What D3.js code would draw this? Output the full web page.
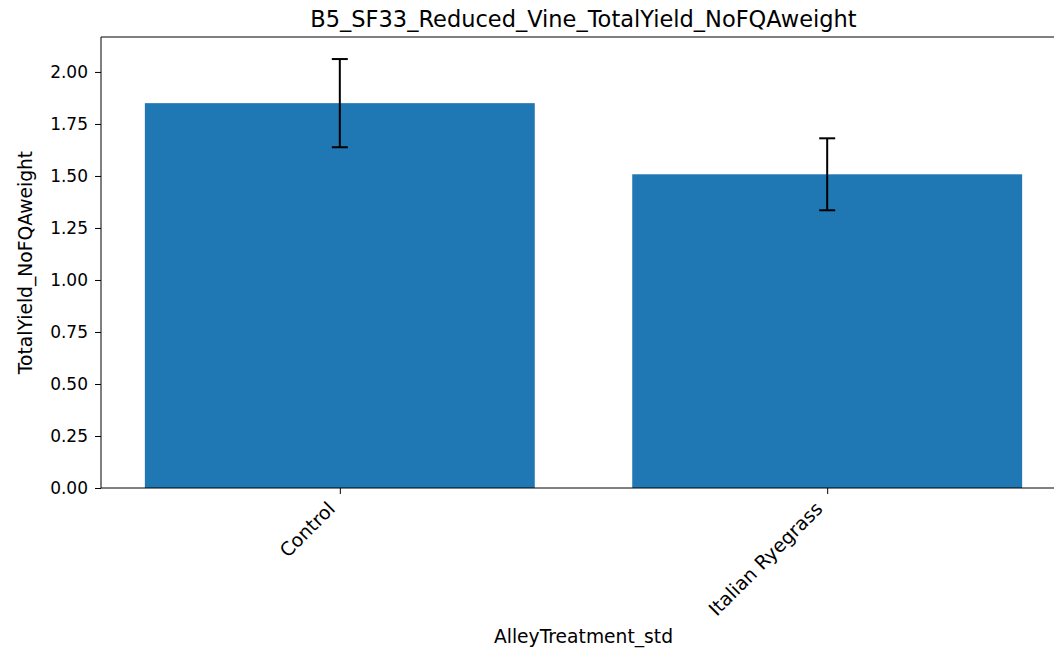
<!DOCTYPE html>
<html>
<head>
<meta charset="utf-8">
<script src="https://cdn.jsdelivr.net/npm/d3@7"></script>
<style>
  body { margin: 0; background: #fff; }
  text { font-family: "DejaVu Sans", sans-serif; fill: #000; }
</style>
</head>
<body>
<div id="chart"></div>
<script>
const categories = ["Control", "Italian Ryegrass"];
const means = [1.850, 1.508];
const errors = [0.212, 0.173];
const yTicks = [0, 0.25, 0.5, 0.75, 1.0, 1.25, 1.5, 1.75, 2.0];

const W = 1054, H = 650;
const margin = { top: 37, left: 101, bottom: 162 };
const plotRight = 1066;
const height = H - margin.top - margin.bottom;

const svg = d3.select("#chart").append("svg")
    .attr("width", W)
    .attr("height", H);

// matplotlib-like linear x: bars at 0,1 with width 0.8, 5% margins
const x = d3.scaleLinear()
    .domain([-0.49, 1.49])
    .range([margin.left, plotRight]);
const y = d3.scaleLinear()
    .domain([0, 2.168])
    .range([margin.top + height, margin.top]);

const g = svg.append("g");

g.selectAll("rect.bar")
    .data(means)
    .enter()
    .append("rect")
    .attr("class", "bar")
    .attr("x", (d, i) => x(i - 0.4))
    .attr("width", (d, i) => x(i + 0.4) - x(i - 0.4))
    .attr("y", d => y(d))
    .attr("height", d => y(0) - y(d))
    .attr("fill", "#1f77b4");

// error bars
const cap = 8;
means.forEach((m, i) => {
    const cx = x(i);
    const eb = g.append("g").attr("stroke", "#000").attr("stroke-width", 2);
    eb.append("line")
        .attr("x1", cx).attr("x2", cx)
        .attr("y1", y(m - errors[i])).attr("y2", y(m + errors[i]));
    [m - errors[i], m + errors[i]].forEach(v => {
        eb.append("line")
            .attr("x1", cx - cap).attr("x2", cx + cap)
            .attr("y1", y(v)).attr("y2", y(v));
    });
});

// axes
const yAxis = svg.append("g")
    .attr("transform", "translate(" + margin.left + ",0)")
    .call(d3.axisLeft(y).tickValues(yTicks).tickFormat(d3.format(".2f")).tickSize(6).tickPadding(7));
yAxis.select(".domain").remove();
yAxis.selectAll("text").style("font-size", "17px");

const xAxis = svg.append("g")
    .attr("transform", "translate(0," + y(0) + ")")
    .call(d3.axisBottom(x).tickValues([0, 1]).tickFormat((d) => categories[d]).tickSize(6));
xAxis.select(".domain").remove();
xAxis.selectAll("text")
    .style("font-size", "19px")
    .attr("text-anchor", "end")
    .attr("x", 0)
    .attr("y", 0)
    .attr("dy", 0)
    .attr("transform", "translate(-4,22) rotate(-45)");

// spines
const spine = svg.append("g").attr("stroke", "#000").attr("stroke-width", 1).attr("fill", "none");
spine.append("line").attr("x1", margin.left).attr("x2", margin.left).attr("y1", margin.top).attr("y2", y(0));
spine.append("line").attr("x1", plotRight).attr("x2", plotRight).attr("y1", margin.top).attr("y2", y(0));
spine.append("line").attr("x1", margin.left).attr("x2", plotRight).attr("y1", margin.top).attr("y2", margin.top);
spine.append("line").attr("x1", margin.left).attr("x2", plotRight).attr("y1", y(0)).attr("y2", y(0));

// labels
const midX = (margin.left + plotRight) / 2;
svg.append("text")
    .attr("x", midX).attr("y", 27)
    .attr("text-anchor", "middle")
    .style("font-size", "22.5px")
    .text("B5_SF33_Reduced_Vine_TotalYield_NoFQAweight");

svg.append("text")
    .attr("x", midX).attr("y", 643)
    .attr("text-anchor", "middle")
    .style("font-size", "18.7px")
    .text("AlleyTreatment_std");

svg.append("text")
    .attr("transform", "translate(32," + (margin.top + height / 2) + ") rotate(-90)")
    .attr("text-anchor", "middle")
    .style("font-size", "18.7px")
    .text("TotalYield_NoFQAweight");
</script>
</body>
</html>
